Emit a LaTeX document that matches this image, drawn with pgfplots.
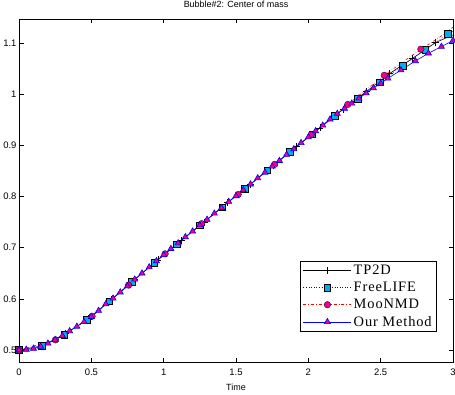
\documentclass[border=0pt]{standalone}
\usepackage{fontspec}
\setmainfont{Liberation Sans}
\newfontfamily\legfont[LetterSpace=6]{Liberation Serif}
\usepackage{pgfplots}
\pgfplotsset{compat=1.18}

\begin{document}
\begin{tikzpicture}[x=1bp,y=1bp]
  \path[use as bounding box] (0,0) rectangle (455,394);
  \begin{axis}[
      at={(19bp,32bp)}, anchor=south west,
      scale only axis,
      width=434bp, height=343bp,
      xmin=0, xmax=3,
      ymin=0.4766, ymax=1.147,
      xtick={0,0.5,...,3},
      ytick={0.5,0.6,0.7,0.8,0.9,1,1.1},
      tick align=inside,
      major tick length=4.5bp,
      tick style={black, line width=0.6bp},
      axis line style={line width=0.6bp},
      /pgf/number format/assume math mode=true,
      tick label style={font=\fontsize{9.5}{11}\selectfont},
      xticklabel style={yshift=-3bp},
      yticklabel style={xshift=1bp},
      title={Bubble\#2: Center of mass},
      title style={font=\fontsize{9}{11}\selectfont, at={(0.5,1)}, yshift=2bp},
      xlabel={Time},
      xlabel style={font=\fontsize{9}{11}\selectfont, yshift=-2bp},
      legend cell align=left,
      legend style={at={(0.963,0.0875)}, anchor=south east,
        draw=black, line width=0.6bp, inner xsep=3bp, inner ysep=2bp, row sep=2bp,
        font={\legfont\fontsize{14.5}{17}\selectfont}},
      legend image code/.code={
        \draw[mark repeat=2,mark phase=2] plot coordinates {(0bp,0bp) (24bp,0bp) (48bp,0bp)};
      },
    ]
    % TP2D
    \addplot[black, line width=0.6bp, mark=+, mark size=3.5bp,
      mark options={solid}] coordinates {
      (0,0.500) (0.16,0.508) (0.32,0.532) (0.48,0.561) (0.64,0.599)
      (0.80,0.638) (0.96,0.676) (1.12,0.714) (1.28,0.750) (1.44,0.788)
      (1.60,0.824) (1.76,0.861) (1.92,0.898) (2.08,0.934) (2.24,0.971)
      (2.40,1.005) (2.56,1.040) (2.72,1.070) (2.88,1.101)
    };
    \addlegendentry{TP2D}
    % FreeLIFE
    \addplot[blue, dotted, line width=0.6bp, mark=square*, mark size=3.3bp,
      mark options={solid, fill=cyan, draw=black}] coordinates {
      (0,0.500) (0.156,0.508) (0.312,0.530) (0.468,0.559) (0.624,0.595)
      (0.780,0.633) (0.936,0.671) (1.092,0.707) (1.248,0.744) (1.404,0.779)
      (1.560,0.815) (1.716,0.851) (1.872,0.887) (2.028,0.922) (2.184,0.958)
      (2.340,0.991) (2.496,1.023) (2.652,1.056) (2.808,1.087) (2.964,1.118)
    };
    \addlegendentry{FreeLIFE}
    % MooNMD
    \addplot[red, dash dot, line width=0.6bp, mark=*, mark size=3.3bp,
      mark options={solid, fill=magenta, draw=black, line width=0.3bp}] coordinates {
      (0,0.500) (0.2525,0.520) (0.505,0.566) (0.7575,0.627) (1.010,0.688)
      (1.2625,0.747) (1.515,0.804) (1.7675,0.863) (2.020,0.921)
      (2.2725,0.980) (2.525,1.037) (2.7775,1.088)
    };
    \addlegendentry{MooNMD}
    % Our Method
    \addplot[blue, line width=0.6bp, mark=triangle*, mark size=3.5bp,
      mark options={solid, fill=magenta, draw=blue}] coordinates {
      (0,0.500) (0.05,0.501) (0.1,0.503) (0.15,0.507) (0.2,0.513)
      (0.25,0.520) (0.3,0.528) (0.35,0.537) (0.4,0.546) (0.45,0.555)
      (0.5,0.565) (0.55,0.577) (0.6,0.590) (0.65,0.601) (0.7,0.613)
      (0.75,0.625) (0.8,0.638) (0.85,0.650) (0.9,0.662) (0.95,0.674)
      (1.0,0.686) (1.05,0.698) (1.1,0.709) (1.15,0.721) (1.2,0.732)
      (1.25,0.744) (1.3,0.755) (1.35,0.767) (1.4,0.778) (1.45,0.790)
      (1.5,0.801) (1.55,0.813) (1.6,0.824) (1.65,0.836) (1.7,0.847)
      (1.75,0.859) (1.8,0.870) (1.85,0.882) (1.9,0.893) (1.95,0.905)
      (2.0,0.916) (2.05,0.928) (2.1,0.939) (2.15,0.951) (2.2,0.962)
      (2.25,0.972) (2.3,0.982) (2.35,0.992) (2.4,1.002) (2.45,1.012)
      (2.5,1.021) (2.55,1.031) (2.64,1.047) (2.74,1.065) (2.83,1.080)
      (2.92,1.093) (3.0,1.105)
    };
    \addlegendentry{Our Method}
    % line ends past the last marker
    \addplot[forget plot, black, line width=0.6bp] coordinates {(2.88,1.101) (3.0,1.116)};
    \addplot[forget plot, blue, dotted, line width=0.6bp] coordinates {(2.964,1.118) (3.0,1.123)};
    \addplot[forget plot, red, dash dot, line width=0.6bp] coordinates {(2.7775,1.088) (2.9,1.110) (3.0,1.131)};
  \end{axis}
\end{tikzpicture}
\end{document}
